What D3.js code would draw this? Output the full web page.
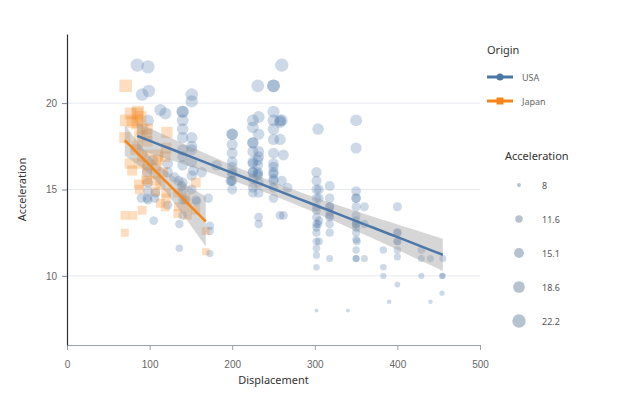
<!DOCTYPE html>
<html>
<head>
<meta charset="utf-8">
<script src="https://cdn.jsdelivr.net/npm/d3@7"></script>
<style>
  body { margin: 0; background: #fff; }
  svg { font-family: "Noto Sans", "Open Sans", sans-serif; }
</style>
</head>
<body>
<div id="chart"></div>
<script>
// [displacement, acceleration]
const usaPoints = [
  [85,22.2],[98,22.1],[91,20.5],[99,20.7],[151,20.5],[151,20.1],
  [113,19.6],[119,19.4],[140,19.5],[140,19.5],[140,19.0],[140,18.5],[140,18.0],[140,17.3],[140,16.9],
  [151,18.0],[151,17.5],[151,17.3],[98,19.0],[122,16.5],[122,16.0],
  [97,16.0],[104,16.7],[98,15.4],[98,14.9],[90,14.5],[97,14.5],[107,14.8],[106,14.5],
  [122,14.1],[140,15.4],[139,15.2],[140,14.4],[143,14.4],[140,13.5],
  [156,14.4],[157,14.3],[171,14.5],[105,13.2],[136,13.0],[136,11.6],
  [173,12.9],[173,12.6],[173,11.3],[151,15.8],[153,16.1],[135,15.5],[130,15.7],
  [163,16.0],[181,16.4],[151,16.6],[140,16.4],[98,14.4],[151,15.0],[140,14.9],
  [200,18.2],[200,18.2],[200,17.6],[200,17.1],[200,16.6],[200,16.3],[200,15.9],[200,15.5],[200,15.0],[200,16.0],[198,15.5],[199,15.5],
  [225,19.0],[225,18.6],[225,17.7],[225,17.7],[225,17.2],[225,16.6],[225,16.0],[225,15.6],[225,15.1],[225,14.8],[225,16.5],[225,16.0],
  [231,21.0],[232,19.2],[232,18.2],[232,17.2],[232,16.9],[231,16.7],[231,15.9],[232,15.4],[232,14.8],[231,15.8],[231,16.4],[232,13.4],[232,13.0],[231,16.0],
  [250,21.0],[250,21.0],[250,19.5],[250,19.0],[250,18.5],[250,17.9],[250,17.1],[250,16.5],[250,16.3],[250,15.9],[250,15.6],[250,15.1],[250,14.5],[250,16.0],[250,15.5],
  [260,22.2],[258,19.0],[258,18.9],[258,17.9],[262,17.0],[260,15.5],[267,15.1],[258,13.5],[262,13.5],[260,19.0],
  [302,16.0],[302,15.5],[302,15.0],[302,14.5],[302,14.0],[302,13.4],[302,13.0],[302,12.8],[302,12.5],[302,12.0],[302,11.6],[302,11.2],[302,10.5],
  [304,18.5],[305,15.0],[305,14.5],[304,13.0],[305,12.0],[302,13.8],[305,13.2],[302,8.0],
  [318,15.2],[318,14.5],[318,14.0],[318,13.7],[318,13.4],[318,13.0],[318,12.5],[318,11.0],[318,13.5],[318,14.0],
  [340,8.0],
  [350,19.0],[350,17.4],[350,14.9],[350,14.5],[350,14.5],[350,14.0],[350,13.5],[350,13.2],[350,13.0],[350,12.8],[350,12.5],[350,12.1],[350,11.5],[350,11.0],[351,12.0],[350,11.0],[350,13.0],
  [360,14.0],[360,13.0],[360,11.0],
  [383,11.5],[383,10.5],[383,10.0],[390,8.5],
  [400,14.0],[400,12.5],[400,12.0],[400,12.0],[400,11.5],[400,11.1],[400,9.5],[400,12.5],
  [429,11.5],[429,11.0],[429,10.0],[440,11.0],[440,8.5],
  [455,11.0],[454,10.0],[455,10.0],[454,9.0]
];

const japanPoints = [
  [71,21.0],[77,19.4],[85,19.4],[71,19.0],[79,18.9],[85,19.0],[91,18.5],[85,18.8],[89,19.2],[86,19.5],
  [70,18.0],[88,18.1],[96,18.2],[97,17.8],[121,18.3],[120,17.4],[97,18.5],
  [110,17.0],[110,16.7],[76,16.5],[79,16.1],[88,16.5],[91,16.9],[97,17.0],[85,17.5],
  [87,15.3],[96,15.6],[88,15.0],[113,15.3],[120,14.8],[120,14.5],[113,14.2],[97,15.5],[107,15.9],
  [156,15.4],[70,13.5],[80,13.5],[91,13.8],[70,12.5],
  [134,13.6],[146,13.5],[168,12.6],[168,11.4],
  [116,16.0],[108,16.4],[119,16.9],[107,14.9],[119,14.0],[135,14.0],[144,14.5],[134,14.8],
  [108,15.5],[156,13.8],[146,14.0],[97,16.2],[98,16.4],[83,17.3]
];

const origins = ["USA", "Japan"];
const originColors = ["#4c78a8", "#f58518"];
const sizeLegendValues = [8, 11.6, 15.1, 18.6, 22.2];
const xTicks = [0, 100, 200, 300, 400, 500];
const yTicks = [10, 15, 20];

const width = 640, height = 404;
const margin = { left: 67, right: 160, top: 34, bottom: 59 };

const svg = d3.select("#chart").append("svg")
  .attr("width", width)
  .attr("height", height);

const x = d3.scaleLinear().domain([0, 500]).range([margin.left, width - margin.right]);
const y = d3.scaleLinear().domain([6, 24]).range([height - margin.bottom, margin.top]);
const area = d3.scaleLinear().domain([8, 22.2]).range([12, 140]);
const radius = v => Math.sqrt(area(v) / Math.PI);

// gridlines
svg.append("g")
  .selectAll("line")
  .data(yTicks)
  .join("line")
  .attr("x1", x(0)).attr("x2", x(500))
  .attr("y1", d => y(d)).attr("y2", d => y(d))
  .attr("stroke", "#e6e9f0")
  .attr("stroke-width", 1);

// x axis
const xAxis = svg.append("g")
  .attr("transform", `translate(0,${y(6)})`)
  .call(d3.axisBottom(x).tickValues(xTicks).tickSize(5).tickPadding(11));
xAxis.select(".domain").attr("stroke", "#9aa0ab");
xAxis.selectAll(".tick line").attr("stroke", "#9aa0ab");
xAxis.selectAll("text").attr("fill", "#666").style("font-size", "10px");

// y axis
const yAxis = svg.append("g")
  .attr("transform", `translate(${x(0)},0)`)
  .call(d3.axisLeft(y).tickValues(yTicks).tickSize(5).tickSizeOuter(0).tickPadding(5));
yAxis.select(".domain").attr("stroke", "#2b2f38").attr("stroke-width", 1.2);
yAxis.selectAll(".tick line").attr("stroke", "#7d8593");
yAxis.selectAll("text").attr("fill", "#666").style("font-size", "10px");

svg.append("text")
  .attr("x", (x(0) + x(500)) / 2)
  .attr("y", 384)
  .attr("text-anchor", "middle")
  .attr("fill", "#333")
  .style("font-size", "11px")
  .text("Displacement");

svg.append("text")
  .attr("transform", `translate(26,${(y(6) + y(24)) / 2}) rotate(-90)`)
  .attr("text-anchor", "middle")
  .attr("fill", "#333")
  .style("font-size", "11px")
  .text("Acceleration");

// points
svg.append("g")
  .selectAll("circle")
  .data(usaPoints)
  .join("circle")
  .attr("cx", d => x(d[0]))
  .attr("cy", d => y(d[1]))
  .attr("r", d => radius(d[1]))
  .attr("fill", originColors[0])
  .attr("fill-opacity", 0.28);

svg.append("g")
  .selectAll("rect")
  .data(japanPoints)
  .join("rect")
  .attr("x", d => x(d[0]) - Math.sqrt(area(d[1])) * 0.55)
  .attr("y", d => y(d[1]) - Math.sqrt(area(d[1])) * 0.55)
  .attr("width", d => Math.sqrt(area(d[1])) * 1.1)
  .attr("height", d => Math.sqrt(area(d[1])) * 1.1)
  .attr("fill", originColors[1])
  .attr("fill-opacity", 0.28);

// regression with confidence band
function regression(pts) {
  const n = pts.length;
  const mx = d3.mean(pts, d => d[0]);
  const my = d3.mean(pts, d => d[1]);
  const sxx = d3.sum(pts, d => (d[0] - mx) ** 2);
  const sxy = d3.sum(pts, d => (d[0] - mx) * (d[1] - my));
  const b = sxy / sxx, a = my - b * mx;
  const s = Math.sqrt(d3.sum(pts, d => (d[1] - (a + b * d[0])) ** 2) / (n - 2));
  const [x0, x1] = d3.extent(pts, d => d[0]);
  const xs = d3.range(0, 41).map(i => x0 + (x1 - x0) * i / 40);
  return xs.map(xv => {
    const yv = a + b * xv;
    const se = s * Math.sqrt(1 / n + (xv - mx) ** 2 / sxx);
    return { x: xv, y: yv, lo: yv - 2.3 * se, hi: yv + 2.3 * se };
  });
}

const fits = [regression(usaPoints), regression(japanPoints)];

fits.forEach((fit, i) => {
  svg.append("path")
    .datum(fit)
    .attr("d", d3.area().x(d => x(d.x)).y0(d => y(d.lo)).y1(d => y(d.hi)))
    .attr("fill", "#999")
    .attr("fill-opacity", 0.4);
  svg.append("path")
    .datum(fit)
    .attr("d", d3.line().x(d => x(d.x)).y(d => y(d.y)))
    .attr("fill", "none")
    .attr("stroke", originColors[i])
    .attr("stroke-width", 2.5);
});

// origin legend
const leg = svg.append("g");
leg.append("text")
  .attr("x", 487).attr("y", 54)
  .attr("fill", "#333")
  .style("font-size", "11px")
  .text("Origin");
origins.forEach((o, i) => {
  const yy = 77 + i * 24;
  leg.append("line")
    .attr("x1", 487).attr("x2", 513)
    .attr("y1", yy).attr("y2", yy)
    .attr("stroke", originColors[i])
    .attr("stroke-width", 3);
  if (i === 0) {
    leg.append("circle").attr("cx", 500).attr("cy", yy).attr("r", 3.5).attr("fill", originColors[i]);
  } else {
    leg.append("rect").attr("x", 496.5).attr("y", yy - 3.5).attr("width", 7).attr("height", 7).attr("fill", originColors[i]);
  }
  leg.append("text")
    .attr("x", 522).attr("y", yy + 3.5)
    .attr("fill", "#666")
    .style("font-size", "9px")
    .text(o);
});

// size legend
const sleg = svg.append("g");
sleg.append("text")
  .attr("x", 505).attr("y", 160)
  .attr("fill", "#333")
  .style("font-size", "11px")
  .text("Acceleration");
sizeLegendValues.forEach((v, i) => {
  const yy = 185 + i * 34;
  sleg.append("circle")
    .attr("cx", 519).attr("cy", yy)
    .attr("r", radius(v))
    .attr("fill", "#b7c2d0");
  sleg.append("text")
    .attr("x", 542).attr("y", yy + 3.5)
    .attr("fill", "#555")
    .style("font-size", "9px")
    .text(v);
});
</script>
</body>
</html>
